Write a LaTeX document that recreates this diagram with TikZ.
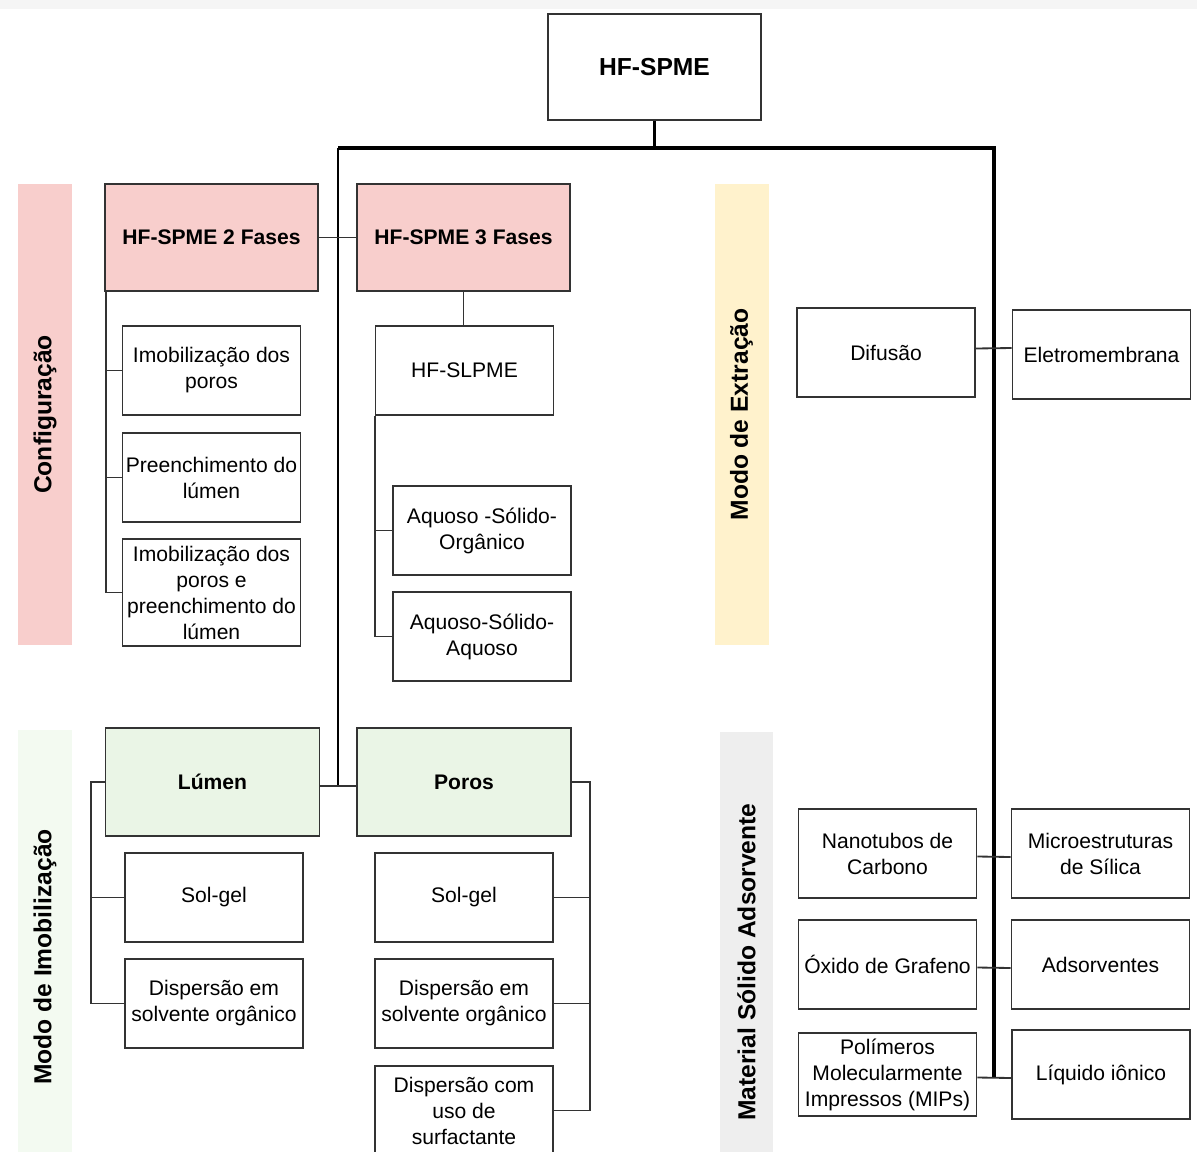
\documentclass[tikz,border=0pt]{standalone}
\usepackage{fontspec}
\setmainfont{Liberation Sans}

\definecolor{cfgpink}{HTML}{F8CECC}
\definecolor{extyellow}{HTML}{FFF2CC}
\definecolor{imogreen}{HTML}{EAF5E6}
\definecolor{imoband}{HTML}{F3FAF1}
\definecolor{matgray}{HTML}{EEEEEE}
\definecolor{edge}{HTML}{333333}

\begin{document}
\begin{tikzpicture}[x=0.025cm,y=-0.025cm,
    box/.style={draw=edge, line width=1.2pt, fill=white, align=center, inner sep=1pt,
      minimum width=4.45cm, minimum height=2.225cm, font=\fontsize{15}{18.5}\selectfont},
    head/.style={box, minimum width=5.33cm, minimum height=2.68cm,
      font=\bfseries\fontsize{15}{18.5}\selectfont},
    band/.style={rotate=90, minimum height=1.35cm, inner sep=0pt,
      font=\bfseries\fontsize{17.5}{21}\selectfont},
    link/.style={draw=edge, line width=1.3pt},
    trunk/.style={draw=black, line width=2.2pt}]
  \useasboundingbox (0,0) rectangle (1197,1151);
  \clip (0,0) rectangle (1197,1151);
  \fill[black!4] (0,0) rectangle (1197,9);

  % side bands
  \node[band, fill=cfgpink, minimum width=11.525cm] (cfg) at (45,414.5) {Configuração};
  \node[band, fill=extyellow, minimum width=11.525cm] (ext) at (741.5,414.5) {Modo de Extração};
  \node[band, fill=imoband, minimum width=11.35cm] (imo) at (45,957) {Modo de Imobilização};
  \node[band, fill=matgray, minimum width=11.5cm, minimum height=1.33cm] (mat) at (746.5,962) {Material Sólido Adsorvente};

  % root
  \node[box, minimum width=5.33cm, minimum height=2.65cm,
    font=\bfseries\fontsize{17.5}{21}\selectfont] (root) at (654.5,67) {HF-SPME};

  % configuracao
  \node[head, fill=cfgpink] (f2) at (211.5,237.5) {HF-SPME 2 Fases};
  \node[head, fill=cfgpink] (f3) at (463.5,237.5) {HF-SPME 3 Fases};
  \node[box] (imp) at (211.5,370.5) {Imobilização dos\\poros};
  \node[box] (pre) at (211.5,477.5) {Preenchimento do\\lúmen};
  \node[box, minimum height=2.675cm] (ipp) at (211.5,592.5) {Imobilização dos\\poros e\\preenchimento do\\lúmen};
  \node[box] (slp) at (464.5,370.5) {HF-SLPME};
  \node[box] (aso) at (482,530.5) {Aquoso -Sólido-\\Orgânico};
  \node[box] (asa) at (482,636.5) {Aquoso-Sólido-\\Aquoso};

  % modo de extracao
  \node[box] (dif) at (886,352.5) {Difusão};
  \node[box] (ele) at (1101.5,354.5) {Eletromembrana};

  % modo de imobilizacao
  \node[head, fill=imogreen, minimum width=5.35cm, minimum height=2.7cm] (lum) at (212.5,782) {Lúmen};
  \node[head, fill=imogreen, minimum width=5.35cm, minimum height=2.7cm] (por) at (464,782) {Poros};
  \node[box] (sgl) at (214,897.5) {Sol-gel};
  \node[box] (dsl) at (214,1003.5) {Dispersão em\\solvente orgânico};
  \node[box] (sgp) at (464,897.5) {Sol-gel};
  \node[box] (dsp) at (464,1003.5) {Dispersão em\\solvente orgânico};
  \node[box] (dcp) at (464,1110.5) {Dispersão com\\uso de\\surfactante};

  % material solido adsorvente
  \node[box] (nan) at (887.5,853.5) {Nanotubos de\\Carbono};
  \node[box] (mic) at (1100.5,853.5) {Microestruturas\\de Sílica};
  \node[box] (oxi) at (887.5,964.5) {Óxido de Grafeno};
  \node[box] (ads) at (1100.5,964.5) {Adsorventes};
  \node[box, minimum height=2.075cm] (pol) at (887.5,1074.5) {Polímeros\\Molecularmente\\Impressos (MIPs)};
  \node[box] (liq) at (1101,1074.5) {Líquido iônico};

  % main trunk
  \coordinate (tl) at (338,148);
  \coordinate (tr) at (994,148);
  \coordinate (lb) at (338,786);
  \coordinate (rb) at (994,1078);
  \draw[trunk] (root.south) -- (root.south |- tl);
  \draw[trunk] (tl) -- (tr) -- (rb);
  \draw[trunk, line width=1.6pt] (tl) -- (lb);

  % pairs crossing the trunks
  \draw[link] (f2.east) -- (f3.west);
  \draw[link] (lum.east) ++(0,4) -- (por.west |- 0,786);
  \draw[link] (dif.east) ++(0,-4) -- (ele.west |- 0,348);
  \draw[link] (nan.east) ++(0,3) -- (mic.west |- 0,857);
  \draw[link] (oxi.east) ++(0,3) -- (ads.west |- 0,968);
  \draw[link] (pol.east) ++(0,3) -- (liq.west |- 0,1078);

  % branches
  \foreach \n in {imp,pre,ipp}{
    \draw[link] (f2.south west) ++(2,0) |- (\n.west);
  }
  \draw[link] (f3.south) -- (f3.south |- slp.north);
  \foreach \n in {aso,asa}{
    \draw[link] (slp.south west) |- (\n.west);
  }
  \foreach \n in {sgl,dsl}{
    \draw[link] (lum.west) -- ++(-14,0) |- (\n.west);
  }
  \foreach \n in {sgp,dsp,dcp}{
    \draw[link] (por.east) -- ++(18,0) |- (\n.east);
  }
\end{tikzpicture}
\end{document}
